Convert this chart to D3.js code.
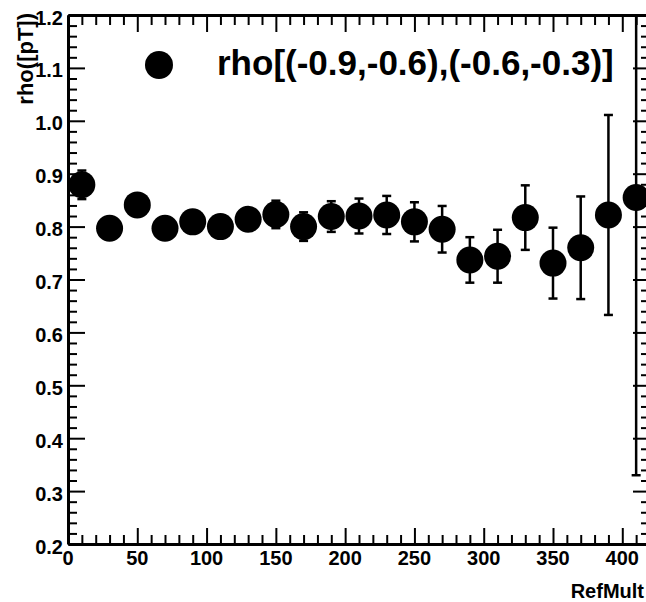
<!DOCTYPE html>
<html>
<head>
<meta charset="utf-8">
<script src="https://cdn.jsdelivr.net/npm/d3@7"></script>
<style>
  body { margin: 0; background: #fff; }
  text { font-family: "Liberation Sans", Arial, sans-serif; font-weight: bold; fill: #000; }
</style>
</head>
<body>
<div id="container"></div>
<script>
// data
let refMult = [10, 30, 50, 70, 90, 110, 130, 150, 170, 190, 210, 230, 250, 270, 290, 310, 330, 350, 370, 390, 410];
let rho = [0.879, 0.797, 0.841, 0.797, 0.809, 0.800, 0.814, 0.823, 0.800, 0.819, 0.820, 0.822, 0.809, 0.795, 0.737, 0.744, 0.817, 0.731, 0.760, 0.822, 0.855];
let rhoErr = [0.027, 0.015, 0.015, 0.015, 0.017, 0.018, 0.020, 0.026, 0.027, 0.029, 0.033, 0.036, 0.037, 0.044, 0.043, 0.050, 0.061, 0.067, 0.097, 0.189, 0.525];
let xTickLabels = [0, 50, 100, 150, 200, 250, 300, 350, 400];
let yTickLabels = [0.2, 0.3, 0.4, 0.5, 0.6, 0.7, 0.8, 0.9, 1.0, 1.1, 1.2];
let legendLabel = "rho[(-0.9,-0.6),(-0.6,-0.3)]";

let W = 646, H = 602;
let margin = { TOP: 15, LEFT: 68, RIGHT: 650, BOTTOM: 544 };

let x = d3.scaleLinear().domain([0, 420]).range([margin.LEFT, margin.RIGHT]);
let y = d3.scaleLinear().domain([0.2, 1.2]).range([margin.BOTTOM, margin.TOP]);

let svg = d3.select("#container").append("svg")
  .attr("width", W)
  .attr("height", H);

svg.append("defs").append("clipPath").attr("id", "clip")
  .append("rect")
  .attr("x", margin.LEFT).attr("y", margin.TOP)
  .attr("width", margin.RIGHT - margin.LEFT)
  .attr("height", margin.BOTTOM - margin.TOP);

// axes, ROOT style: ticks pointing inward on all four sides
let xMinor = d3.range(0, 421, 10);
let yMinor = d3.range(0, 51).map(i => 0.2 + i * 0.02);
let isMajorX = v => v % 50 === 0;
let isMajorY = v => Math.abs(Math.round(v * 10) - v * 10) < 1e-6;

let gB = svg.append("g").attr("transform", `translate(0,${margin.BOTTOM})`)
  .call(d3.axisBottom(x).tickValues(xMinor).tickSizeInner(0).tickSizeOuter(0).tickFormat(""));
gB.selectAll(".tick line").attr("y2", d => isMajorX(d) ? -16 : -9);

let gT = svg.append("g").attr("transform", `translate(0,${margin.TOP})`)
  .call(d3.axisTop(x).tickValues(xMinor).tickSizeInner(0).tickSizeOuter(0).tickFormat(""));
gT.selectAll(".tick line").attr("y2", d => isMajorX(d) ? 17 : 10);

let gL = svg.append("g").attr("transform", `translate(${margin.LEFT},0)`)
  .call(d3.axisLeft(y).tickValues(yMinor).tickSizeInner(0).tickSizeOuter(0).tickFormat(""));
gL.selectAll(".tick line").attr("x2", d => isMajorY(d) ? 17 : 9);

let gR = svg.append("g").attr("transform", `translate(${margin.RIGHT},0)`)
  .call(d3.axisRight(y).tickValues(yMinor).tickSizeInner(0).tickSizeOuter(0).tickFormat(""));
gR.selectAll(".tick line").attr("x2", d => isMajorY(d) ? -17 : -9);

svg.selectAll(".domain").attr("stroke", "#000").attr("stroke-width", 3);
svg.selectAll(".tick line").attr("stroke", "#000").attr("stroke-width", 2);

// tick labels
svg.append("g").selectAll("text")
  .data(xTickLabels)
  .enter().append("text")
  .attr("x", d => x(d))
  .attr("y", margin.BOTTOM + 21)
  .attr("text-anchor", "middle")
  .attr("font-size", 20)
  .text(d => d);

svg.append("g").selectAll("text")
  .data(yTickLabels)
  .enter().append("text")
  .attr("x", margin.LEFT - 5)
  .attr("y", d => y(d) + 9.5)
  .attr("text-anchor", "end")
  .attr("font-size", 20)
  .text(d => d3.format(".1f")(d));

// axis titles
svg.append("text")
  .attr("x", 644)
  .attr("y", 598)
  .attr("text-anchor", "end")
  .attr("font-size", 20)
  .text("RefMult");

svg.append("text")
  .attr("transform", `translate(33,${margin.TOP - 2}) rotate(-90)`)
  .attr("text-anchor", "end")
  .attr("font-size", 22)
  .text("rho([pT])");

// points with error bars
let pts = refMult.map((m, i) => ({ x: m, y: rho[i], e: rhoErr[i] }));
let plot = svg.append("g").attr("clip-path", "url(#clip)");

let bars = plot.selectAll("g.pt")
  .data(pts)
  .enter().append("g")
  .attr("class", "pt");

bars.append("line")
  .attr("x1", d => x(d.x)).attr("x2", d => x(d.x))
  .attr("y1", d => y(d.y - d.e)).attr("y2", d => y(d.y + d.e))
  .attr("stroke", "#000").attr("stroke-width", 2.5);

bars.append("line")
  .attr("x1", d => x(d.x) - 4.5).attr("x2", d => x(d.x) + 4.5)
  .attr("y1", d => y(d.y - d.e)).attr("y2", d => y(d.y - d.e))
  .attr("stroke", "#000").attr("stroke-width", 2.5);

bars.append("line")
  .attr("x1", d => x(d.x) - 4.5).attr("x2", d => x(d.x) + 4.5)
  .attr("y1", d => y(d.y + d.e)).attr("y2", d => y(d.y + d.e))
  .attr("stroke", "#000").attr("stroke-width", 2.5);

bars.append("circle")
  .attr("cx", d => x(d.x))
  .attr("cy", d => y(d.y))
  .attr("r", 13.5)
  .attr("fill", "#000");

// legend
svg.append("circle")
  .attr("cx", 159).attr("cy", 65).attr("r", 14)
  .attr("fill", "#000");

svg.append("text")
  .attr("x", 217)
  .attr("y", 75)
  .attr("font-size", 35)
  .text(legendLabel);
</script>
</body>
</html>
